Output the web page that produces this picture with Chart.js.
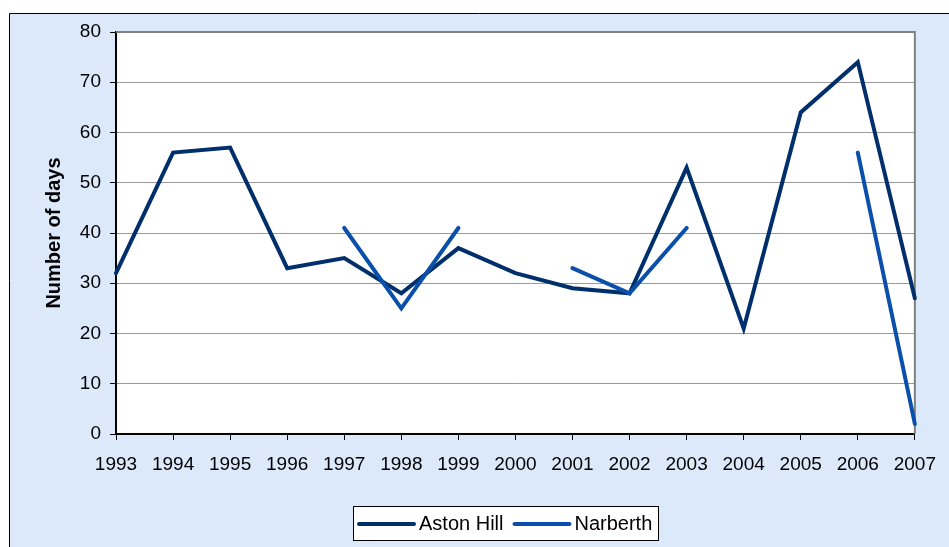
<!DOCTYPE html>
<html>
<head>
<meta charset="utf-8">
<script src="https://cdn.jsdelivr.net/npm/chart.js@4/dist/chart.umd.min.js"></script>
<style>
  html, body { margin: 0; padding: 0; background: #fff; }
  #wrap { width: 949px; height: 547px; position: relative; }
</style>
</head>
<body>
<div id="wrap"><canvas id="chart"></canvas></div>
<script>
// data
const years = ['1993','1994','1995','1996','1997','1998','1999','2000','2001','2002','2003','2004','2005','2006','2007'];
const astonHill = [32, 56, 57, 33, 35, 28, 37, 32, 29, 28, 53, 21, 64, 74, 27];
const narberth  = [null, null, null, null, 41, 25, 41, null, 33, 28, 41, null, null, 56, 2];
const seriesNames = ['Aston Hill', 'Narberth'];
const yMin = 0, yMax = 80, yStep = 10;

const FONT = '"Liberation Sans", Arial, sans-serif';
const NAVY = '#002f6c';
const BLUE = '#0a50aa';

// outer panel + white plot area, Excel look
const backdrop = {
  id: 'backdrop',
  beforeDraw(chart) {
    const { ctx, chartArea: a, width, height } = chart;
    ctx.save();
    ctx.fillStyle = '#fff';
    ctx.fillRect(0, 0, width, height);
    ctx.fillStyle = '#dce9fb';
    ctx.fillRect(9, 13, width, height);
    ctx.strokeStyle = '#000';
    ctx.lineWidth = 1;
    ctx.beginPath();
    ctx.moveTo(9.5, height + 2);
    ctx.lineTo(9.5, 13.5);
    ctx.lineTo(width + 2, 13.5);
    ctx.stroke();
    ctx.fillStyle = '#fff';
    ctx.fillRect(a.left, a.top, a.right - a.left, a.bottom - a.top);
    ctx.restore();
  },
  beforeDatasetsDraw(chart) {
    const { ctx, chartArea: a } = chart;
    ctx.save();
    ctx.strokeStyle = '#808080';
    ctx.lineWidth = 2;
    ctx.beginPath();
    ctx.moveTo(a.left, a.top);
    ctx.lineTo(a.right, a.top);
    ctx.lineTo(a.right, a.bottom);
    ctx.stroke();
    ctx.restore();
  }
};

// boxed legend under the axis
const boxLegend = {
  id: 'boxLegend',
  afterDraw(chart) {
    const { ctx } = chart;
    const x0 = 353, y0 = 506, w = 305, h = 34;
    ctx.save();
    ctx.fillStyle = '#fff';
    ctx.fillRect(x0, y0, w, h);
    ctx.strokeStyle = '#000';
    ctx.lineWidth = 1;
    ctx.strokeRect(x0 + 0.5, y0 + 0.5, w, h);
    ctx.font = '20px ' + FONT;
    ctx.textBaseline = 'middle';
    let x = x0 + 6;
    const cy = y0 + h / 2 + 1;
    chart.data.datasets.forEach(ds => {
      ctx.strokeStyle = ds.borderColor;
      ctx.lineWidth = 4;
      ctx.lineCap = 'round';
      ctx.beginPath();
      ctx.moveTo(x, cy);
      ctx.lineTo(x + 55, cy);
      ctx.stroke();
      ctx.fillStyle = '#000';
      ctx.fillText(ds.label, x + 60, cy);
      x += 60 + ctx.measureText(ds.label).width + 11;
    });
    ctx.restore();
  }
};

new Chart(document.getElementById('chart'), {
  type: 'line',
  data: {
    labels: years,
    datasets: [
      {
        label: seriesNames[0],
        data: astonHill,
        borderColor: NAVY,
        borderWidth: 4,
        borderCapStyle: 'round',
        pointRadius: 0,
        tension: 0,
        order: 1
      },
      {
        label: seriesNames[1],
        data: narberth,
        borderColor: BLUE,
        borderWidth: 4,
        borderCapStyle: 'round',
        pointRadius: 0,
        tension: 0,
        spanGaps: false,
        order: 0
      }
    ]
  },
  options: {
    responsive: true,
    maintainAspectRatio: false,
    animation: false,
    layout: { padding: { left: 0, top: 32, right: 34, bottom: 73 } },
    plugins: {
      legend: { display: false },
      tooltip: { enabled: false }
    },
    scales: {
      x: {
        offset: false,
        afterFit: (s) => { s.height = 40; },
        grid: { drawOnChartArea: false, drawTicks: true, tickLength: 6, tickColor: '#000', lineWidth: 1 },
        border: { color: '#000', width: 2 },
        ticks: { color: '#000', font: { family: FONT, size: 19 }, padding: 13, maxRotation: 0, autoSkip: false }
      },
      y: {
        min: yMin,
        max: yMax,
        afterFit: (s) => { s.width = 116; },
        grid: { color: '#9a9a9a', lineWidth: 1, tickLength: 6, tickColor: '#000' },
        border: { color: '#000', width: 2 },
        ticks: { stepSize: yStep, color: '#000', font: { family: FONT, size: 19 }, padding: 9 },
        title: {
          display: true,
          text: 'Number of days',
          color: '#000',
          font: { family: FONT, size: 20, weight: 'bold' },
          padding: { top: 42, bottom: 0 }
        }
      }
    }
  },
  plugins: [backdrop, boxLegend]
});
</script>
</body>
</html>
